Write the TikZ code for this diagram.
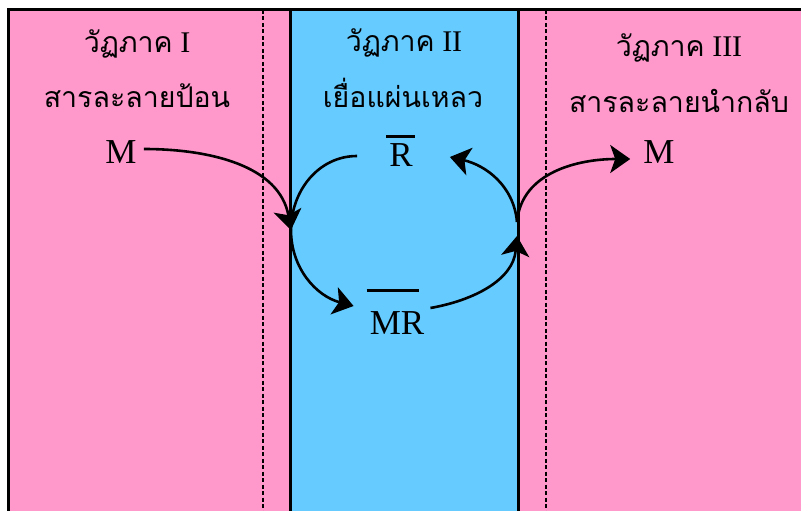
\documentclass[tikz,border=0pt]{standalone}
\usepackage{fontspec}
\setmainfont{Liberation Serif}
\newfontfamily\thaifont[Script=Thai]{Loma}
\usetikzlibrary{arrows.meta,calc}
\definecolor{phasepink}{RGB}{255,153,204}
\definecolor{phaseblue}{RGB}{102,204,255}
\newcommand\thaitxt[1]{{\thaifont\fontsize{28.5}{34}\selectfont #1}}
\begin{document}
\begin{tikzpicture}[x=1pt,y=1pt,
  border/.style={line width=3pt},
  sepline/.style={line width=2.5pt, dash pattern=on 4pt off 2.5pt},
  flow/.style={line width=2.6pt, -{Stealth[length=20pt,width=28pt,inset=5pt]}},
  plainflow/.style={line width=2.6pt},
  barline/.style={line width=2.4pt},
  lbl/.style={font=\fontsize{35}{40}\selectfont, inner sep=0pt},
  head/.style={font=\fontsize{30}{36}\selectfont, anchor=base, inner sep=0pt},
]
\useasboundingbox (0,0) rectangle (801,-511);
\fill[phasepink] (8,-10) rectangle (801,-511);
\fill[phaseblue] (290,-10) rectangle (518,-511);
\draw[sepline] (263,-10) -- (263,-511);
\draw[sepline] (546,-10) -- (546,-511);
\draw[border] (8,-511) -- (8,-10) -- (801,-10);
\draw[border] (290,-10) -- (290,-511);
\draw[border] (518,-10) -- (518,-511);

\node[head] (h1) at (137,-53) {\thaitxt{วัฏภาค} I};
\node[head] (s1) at (137,-107) {\thaitxt{สารละลายป้อน}};
\node[head] (h2) at (404,-52) {\thaitxt{วัฏภาค} II};
\node[head] (s2) at (403,-107) {\thaitxt{เยื่อแผ่นเหลว}};
\node[head] (h3) at (679,-57) {\thaitxt{วัฏภาค} III};
\node[head] (s3) at (679,-112) {\thaitxt{สารละลายนำกลับ}};

\node[lbl] (mL) at (121,-152) {M};
\node[lbl] (rb) at (401,-155) {R};
\node[lbl] (mr) at (397,-323) {MR};
\node[lbl] (mR) at (659,-152) {M};
\draw[barline] ($(rb.north west)+(-3,7)$) -- ($(rb.north east)+(2,7)$);
\draw[barline] ($(mr.north west)+(-3,21)$) -- ($(mr.north east)+(-5,21)$);

\coordinate (J1) at (291,-230);
\coordinate (J2) at (517,-236);
\coordinate (J2top) at (517,-222);

\draw[flow] ($(mL.east)+(7,3)$) to[out=0,in=100] (J1);
\draw[plainflow] ($(rb.west)+(-32,-1)$) to[out=180,in=90] (J1);
\draw[flow] (J1) to[out=-90,in=165] ($(mr.west)+(-16,17)$);
\draw[flow] ($(mr.east)+(6,15)$) to[out=10,in=-95] (J2);
\draw[flow] (J2top) to[out=95,in=-13] ($(rb.east)+(37,-2)$);
\draw[flow] (J2top) to[out=85,in=180] ($(mR.west)+(-13,-7)$);
\end{tikzpicture}
\end{document}
